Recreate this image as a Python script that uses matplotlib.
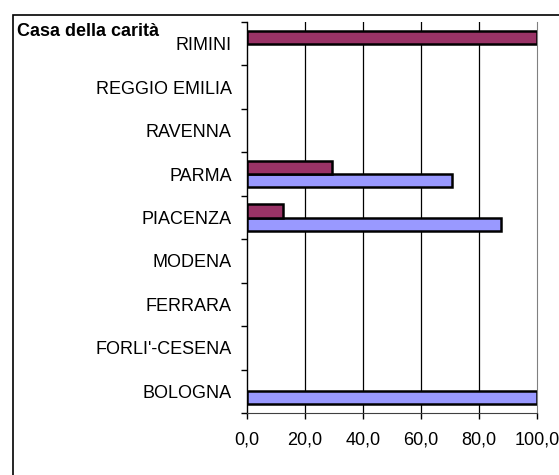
import matplotlib.pyplot as plt
import numpy as np
from matplotlib.patches import Rectangle

plt.rcParams['font.family'] = ['Liberation Sans', 'DejaVu Sans']

province = ['BOLOGNA', "FORLI'-CESENA", 'FERRARA', 'MODENA', 'PIACENZA',
            'PARMA', 'RAVENNA', 'REGGIO EMILIA', 'RIMINI']
serie_viola = [100.0, 0, 0, 0, 87.5, 70.6, 0, 0, 0]
serie_bordeaux = [0, 0, 0, 0, 12.5, 29.4, 0, 0, 100.0]
xticks = [0, 20, 40, 60, 80, 100]
xlabels = ['0,0', '20,0', '40,0', '60,0', '80,0', '100,0']

fig = plt.figure(figsize=(5.59, 4.75), dpi=100)
ax = fig.add_axes([247/559, 1 - 413/475, 290/559, 391/475])

y = np.arange(len(province))
h = 0.3
# zero values leave no bar at all
v = np.array(serie_viola)
b = np.array(serie_bordeaux)
ax.barh(y[v > 0] - h/2, v[v > 0], height=h, color='#9999FF', edgecolor='black', linewidth=1.8, zorder=3)
ax.barh(y[b > 0] + h/2, b[b > 0], height=h, color='#993366', edgecolor='black', linewidth=1.8, zorder=3)

ax.set_xlim(0, 100)
ax.set_ylim(-0.5, len(province) - 0.5)
ax.set_xticks(xticks)
ax.set_xticklabels(xlabels, fontsize=13)
ax.set_yticks(y)
ax.set_yticklabels(province, fontsize=13)
ax.set_yticks(np.arange(-0.5, len(province)), minor=True)

ax.tick_params(axis='y', which='major', length=0, pad=11)
ax.tick_params(axis='y', which='minor', length=4, width=1, color='black', left=True)
ax.tick_params(axis='x', length=4, width=1, pad=9)

for g in xticks[1:-1]:
    ax.axvline(g, color='black', linewidth=0.9, zorder=1)

ax.spines['top'].set_visible(False)
ax.spines['right'].set_color('#808080')
ax.spines['left'].set_linewidth(1)
ax.spines['bottom'].set_color('#404040')

fig.text(17/559, 1 - 32/475, 'Casa della carità', fontsize=13, fontweight='bold', va='center')

fig.add_artist(Rectangle((13/559, -0.02), 1.0, 1 - 15/475 + 0.02, transform=fig.transFigure,
                         fill=False, edgecolor='black', linewidth=1.2, clip_on=False))

fig.savefig('out.png', dpi=100)
